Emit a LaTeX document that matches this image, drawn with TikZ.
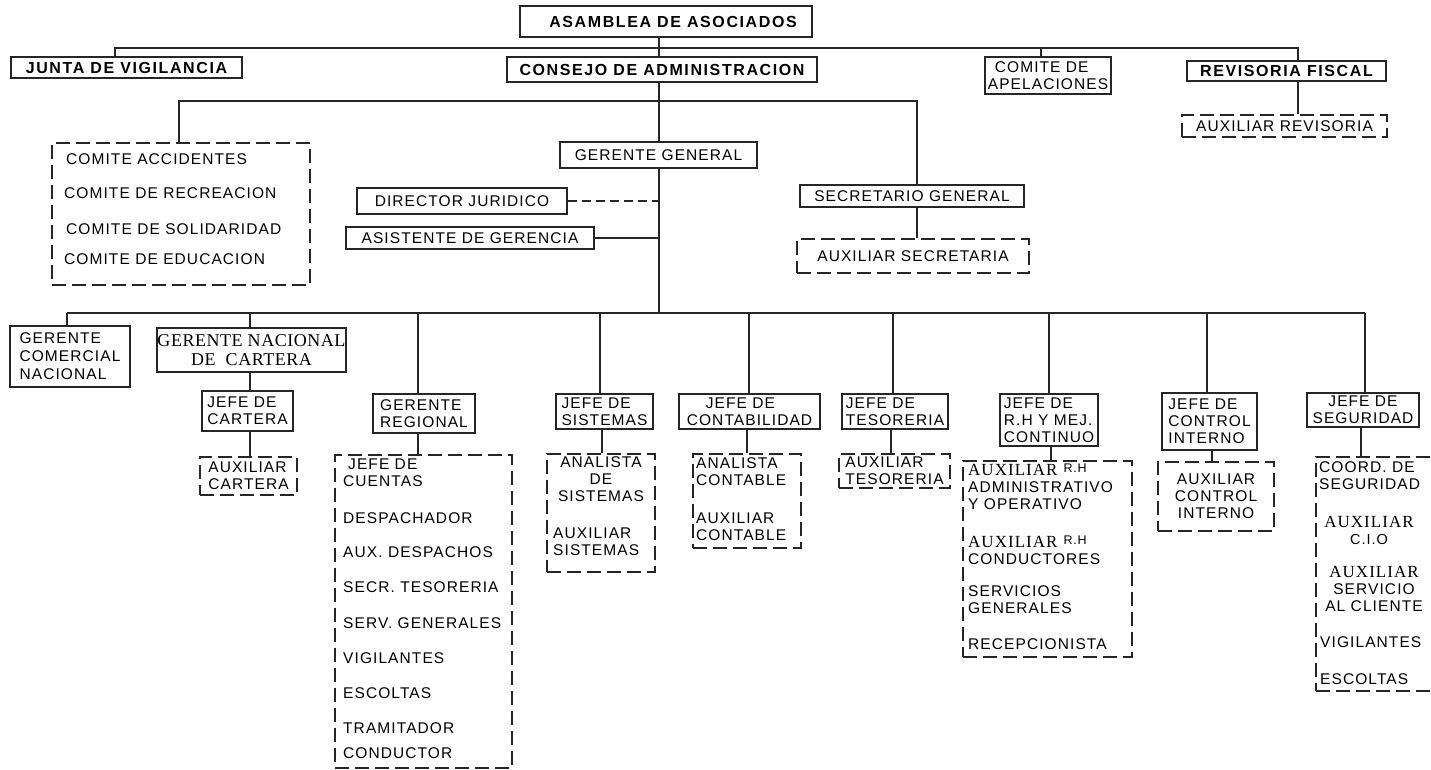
\documentclass[tikz,border=0pt]{standalone}
\usepackage{fontspec}
\setmainfont{Liberation Sans}[LetterSpace=7]
\newfontfamily\hdfont{Liberation Sans}[LetterSpace=10]
\newfontfamily\serfont{Liberation Serif}[LetterSpace=3]
\newfontfamily\auxfont{Liberation Serif}[LetterSpace=6]
\newcommand{\orgtext}{\fontsize{15.5}{17}\selectfont}
\newcommand{\auxword}{{\auxfont\fontsize{17}{17}\selectfont AUXILIAR}}
\newcommand{\smallrh}{\raisebox{3pt}{\fontsize{12.5}{12}\selectfont R.H}}

% box placed by its corners: style, name, x1, y1, x2, y2, text
\newcommand{\orgbox}[7]{%
  \pgfmathsetmacro{\obw}{#5-#3}%
  \pgfmathsetmacro{\obh}{#6-#4}%
  \pgfmathsetmacro{\obx}{(#3+#5)/2}%
  \pgfmathsetmacro{\oby}{(#4+#6)/2}%
  \node[#1, minimum width=\obw pt, minimum height=\obh pt] (#2) at (\obx,\oby) {#7};}

\tikzset{
  conn/.style={draw=black!85, line width=1.6pt},
  plainbox/.style={draw=black!85, line width=1.5pt, inner sep=0.5pt, font=\orgtext, align=center},
  leftbox/.style={plainbox, align=left},
  hdbox/.style={plainbox, font=\hdfont\bfseries\fontsize{16}{17}\selectfont},
  dbox/.style={plainbox, align=left, dash pattern=on 14pt off 6pt},
  item/.style={anchor=west, inner sep=0pt, align=left, font=\orgtext},
  citem/.style={anchor=center, inner sep=0pt, align=center, font=\orgtext},
}

\begin{document}
\begin{tikzpicture}[x=1pt, y=-1pt]
\fill[white] (0,0) rectangle (1431,770);
\useasboundingbox (0,0) rectangle (1431,770);

% bus levels
\coordinate (bus1) at (0,48);
\coordinate (bus2) at (0,101);
\coordinate (bus3) at (0,313);

% ---- governing bodies
\orgbox{hdbox}{asamblea}{520}{6}{812}{37}{\hspace*{14pt}ASAMBLEA DE ASOCIADOS}
\orgbox{hdbox}{junta}{11}{57}{242}{78}{JUNTA DE VIGILANCIA}
\orgbox{hdbox}{consejo}{507}{57}{817}{82}{CONSEJO DE ADMINISTRACION}
\orgbox{leftbox}{apel}{985}{57}{1111}{94}{\hspace*{7pt}COMITE DE\\APELACIONES}
\orgbox{hdbox}{revisoria}{1187}{61}{1386}{81}{REVISORIA FISCAL}
\orgbox{dbox}{auxrev}{1182}{115}{1387}{137}{AUXILIAR REVISORIA}

% ---- second level
\orgbox{dbox}{comites}{52}{143}{310}{285}{}
\node[item] (cacc) at (66,159) {COMITE ACCIDENTES};
\node[item] (crec) at (64,193) {COMITE DE RECREACION};
\node[item] (csol) at (66,229) {COMITE DE SOLIDARIDAD};
\node[item] (cedu) at (64,259) {COMITE DE EDUCACION};

\orgbox{plainbox}{gg}{560}{142}{757}{168}{GERENTE GENERAL}
\orgbox{plainbox}{dirjur}{357}{188}{567}{214}{DIRECTOR JURIDICO}
\orgbox{plainbox}{asist}{346}{227}{594}{249}{ASISTENTE DE GERENCIA}
\orgbox{plainbox}{sec}{800}{185}{1024}{207}{SECRETARIO GENERAL}
\orgbox{dbox, align=center}{auxsec}{797}{239}{1029}{273}{AUXILIAR SECRETARIA}

% ---- third level heads
\orgbox{leftbox}{gcn}{10}{326}{130}{387}{GERENTE\\[1pt]COMERCIAL\\[1pt]NACIONAL}
\orgbox{plainbox, font=\serfont\fontsize{18}{19}\selectfont}{gnc}{157}{328}{346}{372}{GERENTE NACIONAL\\DE\ \ CARTERA}
\orgbox{leftbox}{jcart}{202}{391}{293}{431}{JEFE DE\\CARTERA}
\orgbox{dbox}{auxcart}{200}{457}{297}{495}{AUXILIAR\\CARTERA}
\orgbox{leftbox}{greg}{373}{394}{475}{433}{GERENTE\\REGIONAL}
\orgbox{leftbox}{jsis}{556}{394}{653}{429}{JEFE DE\\SISTEMAS}
\orgbox{leftbox}{jcont}{679}{394}{820}{429}{\hspace*{19pt}JEFE DE\\CONTABILIDAD}
\orgbox{leftbox}{jtes}{842}{394}{948}{429}{JEFE DE\\TESORERIA}
\orgbox{dbox}{auxtes}{839}{454}{950}{488}{AUXILIAR\\TESORERIA}
\orgbox{leftbox}{jrh}{1000}{394}{1098}{446}{JEFE DE\\R.H Y MEJ.\\CONTINUO}
\orgbox{leftbox}{jci}{1162}{393}{1257}{450}{JEFE DE\\CONTROL\\INTERNO}
\orgbox{dbox, align=center}{auxci}{1158}{462}{1274}{531}{AUXILIAR\\CONTROL\\INTERNO}
\orgbox{plainbox}{jseg}{1307}{393}{1419}{427}{JEFE DE\\SEGURIDAD}

% ---- staff groups
\orgbox{dbox}{greglist}{335}{455}{512}{768}{}
\node[item] (jcuentas) at (343,473) {\hspace*{5pt}JEFE DE\\CUENTAS};
\node[item] (desp) at (343,518) {DESPACHADOR};
\node[item] (auxdesp) at (343,552) {AUX. DESPACHOS};
\node[item] (secrtes) at (343,587) {SECR. TESORERIA};
\node[item] (servgen) at (343,623) {SERV. GENERALES};
\node[item] (vigreg) at (343,658) {VIGILANTES};
\node[item] (escreg) at (343,693) {ESCOLTAS};
\node[item] (tramit) at (343,728) {TRAMITADOR};
\node[item] (conduc) at (343,753) {CONDUCTOR};

\orgbox{dbox}{anasis}{547}{454}{655}{572}{}
\node[citem] (analsis) at (601,479) {ANALISTA\\DE\\SISTEMAS};
\node[item] (auxsis) at (553,542) {AUXILIAR\\SISTEMAS};

\orgbox{dbox}{anacont}{693}{454}{801}{548}{}
\node[item] (analcont) at (696,472) {ANALISTA\\CONTABLE};
\node[item] (auxcont) at (696,527) {AUXILIAR\\CONTABLE};

\orgbox{dbox}{rhlist}{963}{461}{1132}{657}{}
\node[item] (auxrhadm) at (968,487) {\auxword\hspace{6pt}\smallrh\\ADMINISTRATIVO\\Y OPERATIVO};
\node[item] (auxrhcon) at (968,550) {\auxword\hspace{6pt}\smallrh\\CONDUCTORES};
\node[item] (servrh) at (968,600) {SERVICIOS\\GENERALES};
\node[item] (recep) at (968,644) {RECEPCIONISTA};

\orgbox{dbox}{seglist}{1316}{457}{1436}{691}{}
\node[item] (coord) at (1319,476) {COORD. DE\\SEGURIDAD};
\node[citem] (auxcio) at (1369,530) {\auxword\\{\fontsize{14.5}{15}\selectfont C.I.O}};
\node[citem] (auxcli) at (1374,589) {\auxword\\SERVICIO\\AL CLIENTE};
\node[item] (vigseg) at (1320,642) {VIGILANTES};
\node[item] (escseg) at (1320,679) {ESCOLTAS};

% ---- connectors, top
\coordinate (ggTop) at ([xshift=0.5pt]gg.north);
\coordinate (ggBot) at ([xshift=0.5pt]gg.south);
\coordinate (juntaIn) at ([xshift=-11.5pt]junta.north);
\coordinate (revIn) at ([xshift=11.5pt]revisoria.north);
\coordinate (apelIn) at ([xshift=-7pt]apel.north);
\draw[conn] (juntaIn) |- (bus1 -| revIn) -- (revIn);
\draw[conn] (apelIn) -- (apelIn |- bus1);
\draw[conn] (asamblea.south -| ggTop) -- (consejo.north -| ggTop);
\draw[conn] (revIn |- revisoria.south) -- (revIn |- auxrev.north);

% ---- connectors, second level
\coordinate (comIn) at ([xshift=-2pt]comites.north);
\coordinate (secIn) at ([xshift=5pt]sec.north);
\draw[conn] (consejo.south -| ggTop) -- (ggTop);
\draw[conn] (comIn) |- (bus2 -| secIn) -- (secIn);
\draw[conn] (secIn |- sec.south) -- (secIn |- auxsec.north);
\draw[conn] (ggBot) -- (ggBot |- bus3);
\draw[conn, dash pattern=on 9pt off 5pt] (dirjur.east) -- (dirjur.east -| ggBot);
\draw[conn] (asist.east) -- (asist.east -| ggBot);

% ---- connectors, third level
\coordinate (gcnIn) at ([xshift=-3pt]gcn.north);
\coordinate (gncIn) at ([xshift=-1.5pt]gnc.north);
\coordinate (gregIn) at ([xshift=-6pt]greg.north);
\coordinate (jsisIn) at ([xshift=-4.5pt]jsis.north);
\coordinate (jcontIn) at ([xshift=-0.5pt]jcont.north);
\coordinate (jtesIn) at ([xshift=-2pt]jtes.north);
\coordinate (jrhIn) at (jrh.north);
\coordinate (jciIn) at ([xshift=-2.5pt]jci.north);
\coordinate (jsegIn) at ([xshift=2pt]jseg.north);
\draw[conn] (gcnIn |- bus3) -- (jsegIn |- bus3);
\foreach \h in {gcnIn,gncIn,gregIn,jsisIn,jcontIn,jtesIn,jrhIn,jciIn,jsegIn}
  \draw[conn] (\h) -- (\h |- bus3);

% ---- connectors to staff groups
\coordinate (gncOut) at ([xshift=-1.5pt]gnc.south);
\coordinate (jcartOut) at ([xshift=2.5pt]jcart.south);
\coordinate (gregOut) at ([xshift=-6pt]greg.south);
\coordinate (jsisOut) at ([xshift=-2.5pt]jsis.south);
\coordinate (jcontOut) at ([xshift=-2.5pt]jcont.south);
\coordinate (jtesOut) at ([xshift=-4pt]jtes.south);
\coordinate (jrhOut) at ([xshift=2pt]jrh.south);
\coordinate (jciOut) at ([xshift=2.5pt]jci.south);
\coordinate (jsegOut) at ([xshift=-2pt]jseg.south);
\draw[conn] (gncOut) -- (gncOut |- jcart.north);
\draw[conn] (jcartOut) -- (jcartOut |- auxcart.north);
\draw[conn] (gregOut) -- (gregOut |- greglist.north);
\draw[conn] (jsisOut) -- (jsisOut |- anasis.north);
\draw[conn] (jcontOut) -- (jcontOut |- anacont.north);
\draw[conn] (jtesOut) -- (jtesOut |- auxtes.north);
\draw[conn] (jrhOut) -- (jrhOut |- rhlist.north);
\draw[conn] (jciOut) -- (jciOut |- auxci.north);
\draw[conn] (jsegOut) -- (jsegOut |- seglist.north);
\end{tikzpicture}
\end{document}
